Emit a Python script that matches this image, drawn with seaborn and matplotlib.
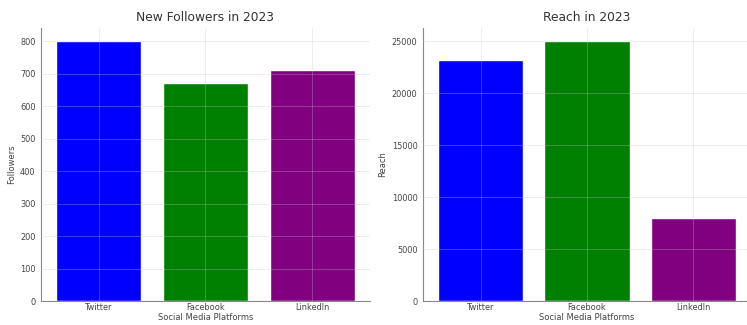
import matplotlib
matplotlib.use("Agg")
import matplotlib.pyplot as plt
import seaborn as sns
import pandas as pd

platforms = ["Twitter", "Facebook", "LinkedIn"]
followers = [800, 670, 710]
reach = [23200, 25000, 8000]
colors = ["blue", "green", "purple"]

sns.set_style("white")
plt.rcParams["font.family"] = ["DejaVu Sans"]

df = pd.DataFrame({"Platform": platforms, "Followers": followers, "Reach": reach})

fig = plt.figure(figsize=(7.47, 3.25), dpi=100)
ax1 = fig.add_axes([0.0549, 0.0738, 0.4404, 0.84])
ax2 = fig.add_axes([0.5663, 0.0738, 0.439, 0.84])

for ax, col, title in [(ax1, "Followers", "New Followers in 2023"),
                       (ax2, "Reach", "Reach in 2023")]:
    sns.barplot(data=df, x="Platform", y=col, hue="Platform", palette=colors,
                saturation=1, width=0.8, legend=False, ax=ax)
    ax.set_title(title, fontsize=8.8, color="#333333", pad=5)
    ax.set_xlabel("Social Media Platforms", fontsize=6, color="#444444", labelpad=1)
    ax.set_ylabel(col, fontsize=6, color="#444444", labelpad=3)
    ax.tick_params(axis="both", labelsize=5.9, colors="#444444", length=2.5, width=0.6, pad=1.5)
    ax.tick_params(axis="x", length=0)
    ax.set_xlim(-0.54, 2.54)
    ax.set_axisbelow(False)
    ax.grid(True, color="#c8c8c8", linewidth=0.7, alpha=0.3)
    for s in ["top", "right"]:
        ax.spines[s].set_visible(False)
    for s in ["left", "bottom"]:
        ax.spines[s].set_color("#888888")
        ax.spines[s].set_linewidth(0.8)

ax1.set_ylim(0, 840)
ax2.set_ylim(0, 26250)

fig.savefig("out.png", dpi=100)
